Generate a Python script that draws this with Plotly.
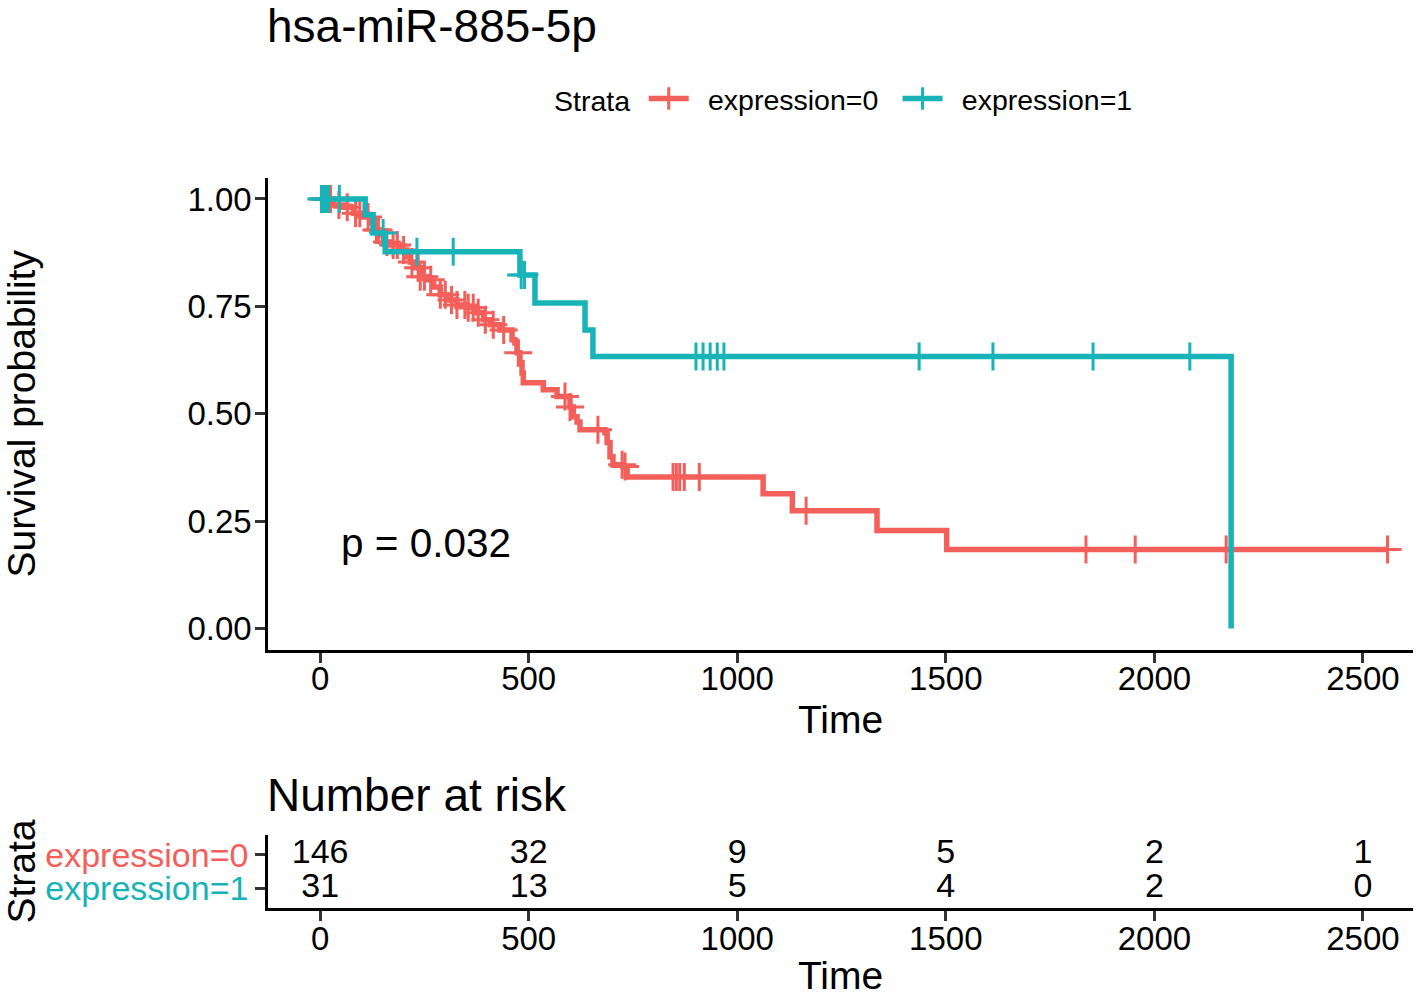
import plotly.graph_objects as go

# ---------------- data ----------------
title_text = "hsa-miR-885-5p"
strata_names = ["expression=0", "expression=1"]

# expression=0 (red) Kaplan-Meier steps: event times and survival after each event
red_times = [32, 56, 80, 100, 124, 128, 144, 152, 168, 192, 208, 216, 228, 240, 256, 272,
             288, 304, 328, 352, 376, 392, 408, 431, 460, 467, 472, 479, 484, 487, 535, 568,
             599, 607, 616, 623, 683, 688, 695, 702, 726, 736, 1062, 1132, 1335, 1502]
red_surv = [0.986, 0.981, 0.967, 0.958, 0.944, 0.928, 0.916, 0.900, 0.893, 0.881, 0.865,
            0.853, 0.840, 0.819, 0.812, 0.795, 0.777, 0.765, 0.753, 0.747, 0.735, 0.719,
            0.707, 0.695, 0.672, 0.665, 0.642, 0.619, 0.595, 0.572, 0.556, 0.540, 0.516,
            0.493, 0.481, 0.463, 0.456, 0.433, 0.400, 0.381, 0.377, 0.353, 0.314, 0.274,
            0.228, 0.184]
red_censor = [8, 15, 25, 45, 65, 85, 95, 115, 135, 140, 160, 175, 185, 200, 220, 235, 240,
              250, 265, 288, 300, 315, 328, 347, 355, 367, 379, 396, 415, 440, 475, 587, 599,
              666, 724, 731, 846, 854, 862, 873, 909, 1165, 1836, 1954, 2172, 2559]

# expression=1 (teal)
teal_times = [108, 127, 156, 479, 515, 635, 654, 2184]
teal_surv = [0.963, 0.921, 0.877, 0.823, 0.758, 0.695, 0.633, 0.0]
teal_censor = [3, 8, 14, 20, 46, 151, 232, 319, 482, 490, 901, 918, 935, 952, 968,
               1436, 1613, 1853, 2085]

p_value_text = "p = 0.032"

risk_times = [0, 500, 1000, 1500, 2000, 2500]
risk_expr0 = [146, 32, 9, 5, 2, 1]
risk_expr1 = [31, 13, 5, 4, 2, 0]

x_ticks = [0, 500, 1000, 1500, 2000, 2500]
y_ticks = [0.0, 0.25, 0.5, 0.75, 1.0]

# ---------------- style ----------------
RED = "#F35F5A"
TEAL = "#17B3B7"
FONT = "Liberation Sans, Arial, sans-serif"
W, H = 1418, 997
ML, MR = 268, 5
PW = W - ML - MR
XR = [-125, 2620]


def py(v):
    """page pixel y -> paper fraction"""
    return 1 - v / H


def px(v):
    """page pixel x -> paper fraction"""
    return (v - ML) / PW


def surv_at(t, times, surv):
    s = 1.0
    for tt, ss in zip(times, surv):
        if tt <= t:
            s = ss
        else:
            break
    return s


fig = go.Figure()

red_x = [0] + red_times + [max(red_censor)]
red_y = [1.0] + red_surv + [red_surv[-1]]
teal_x = [0] + teal_times
teal_y = [1.0] + teal_surv

for xs, ys, cens, times, surv, col in [
    (red_x, red_y, red_censor, red_times, red_surv, RED),
    (teal_x, teal_y, teal_censor, teal_times, teal_surv, TEAL),
]:
    fig.add_trace(go.Scatter(x=xs, y=ys, mode="lines", line=dict(color=col, width=5.5, shape="hv"),
                             showlegend=False, xaxis="x", yaxis="y", hoverinfo="skip"))
    fig.add_trace(go.Scatter(x=cens, y=[surv_at(c, times, surv) for c in cens], mode="markers",
                             marker=dict(symbol="cross-thin", size=20, line=dict(color=col, width=3)),
                             showlegend=False, xaxis="x", yaxis="y", hoverinfo="skip"))

# legend entries
for name, col in zip(strata_names, [RED, TEAL]):
    fig.add_trace(go.Scatter(x=[None], y=[None], mode="lines+markers",
                             name="\u2002" + name + "\u2002",
                             line=dict(color=col, width=5.5),
                             marker=dict(symbol="cross-thin", size=20, line=dict(color=col, width=3)),
                             xaxis="x", yaxis="y"))

# risk table
fig.add_trace(go.Scatter(x=risk_times, y=[2] * len(risk_times), mode="text",
                         text=[str(v) for v in risk_expr0], textposition="middle center",
                         textfont=dict(family=FONT, size=34, color="black"),
                         showlegend=False, xaxis="x2", yaxis="y2", hoverinfo="skip"))
fig.add_trace(go.Scatter(x=risk_times, y=[1] * len(risk_times), mode="text",
                         text=[str(v) for v in risk_expr1], textposition="middle center",
                         textfont=dict(family=FONT, size=34, color="black"),
                         showlegend=False, xaxis="x2", yaxis="y2", hoverinfo="skip"))

axis_common = dict(showline=True, linecolor="black", linewidth=2.5, ticks="outside",
                   ticklen=10, tickwidth=2.5, tickcolor="#333333", showgrid=False,
                   zeroline=False, automargin=False,
                   tickfont=dict(family=FONT, size=33, color="black"))

fig.update_layout(
    width=W, height=H,
    margin=dict(l=ML, r=MR, t=0, b=0, autoexpand=False),
    plot_bgcolor="white", paper_bgcolor="white",
    font=dict(family=FONT, color="black"),
    xaxis=dict(domain=[0, 1], range=XR, anchor="y", tickvals=x_ticks, ticklabelstandoff=-12,
               title=dict(text="Time", font=dict(family=FONT, size=39), standoff=10),
               **axis_common),
    yaxis=dict(domain=[py(650), py(177.5)], range=[-0.05, 1.05], anchor="x",
               tickvals=y_ticks, tickformat=".2f", ticklabelstandoff=-3,
               title=dict(text="Survival probability", font=dict(family=FONT, size=39), standoff=150),
               **axis_common),
    xaxis2=dict(domain=[0, 1], range=XR, anchor="y2", tickvals=x_ticks, ticklabelstandoff=-10,
                title=dict(text="Time", font=dict(family=FONT, size=39), standoff=23),
                **axis_common),
    yaxis2=dict(domain=[py(908), py(835)], range=[0.4, 2.6], anchor="x2",
                tickvals=[2, 1],
                ticktext=[f"<span style='color:{RED}'>{strata_names[0]}</span>",
                          f"<span style='color:{TEAL}'>{strata_names[1]}</span>"],
                title=dict(text="Strata", font=dict(family=FONT, size=39), standoff=27),
                **{**axis_common, "tickfont": dict(family=FONT, size=34)}),
    legend=dict(orientation="h", x=px(552), xanchor="left", y=py(99),
                yanchor="middle", font=dict(family=FONT, size=28.5),
                title=dict(text="Strata\u2009", font=dict(family=FONT, size=28.5), side="left"),
                itemwidth=40, bgcolor="rgba(0,0,0,0)", tracegroupgap=0),
    annotations=[
        dict(text=title_text, xref="paper", yref="paper", x=px(265), y=py(26),
             xanchor="left", yanchor="middle", showarrow=False,
             font=dict(family=FONT, size=46, color="black")),
        dict(text="Number at risk", xref="paper", yref="paper", x=px(265), y=py(795),
             xanchor="left", yanchor="middle", showarrow=False,
             font=dict(family=FONT, size=46, color="black")),
        dict(text=p_value_text, xref="x", yref="y", x=46, y=0.2, xanchor="left",
             yanchor="middle", showarrow=False, font=dict(family=FONT, size=40.5, color="black")),
    ],
)

fig.write_html("out.html", config={"displayModeBar": False},
               post_script="document.body.style.margin='0px';")
